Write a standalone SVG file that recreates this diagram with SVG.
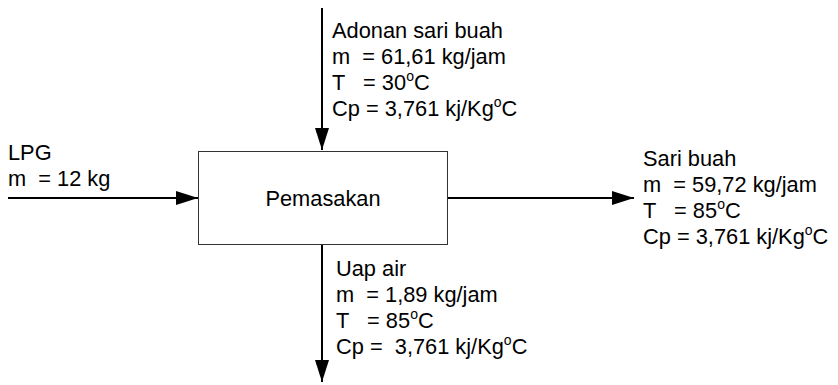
<svg xmlns="http://www.w3.org/2000/svg" width="838" height="385" viewBox="0 0 838 385">
<style>
text{font-family:"Liberation Sans",Arial,sans-serif;font-size:21.8px;fill:#000;white-space:pre}
.sup{font-size:14px}
.flow{stroke:#000;stroke-width:2;fill:none}
</style>
<defs>
<marker id="ah" markerWidth="22" markerHeight="14" refX="22" refY="7" orient="auto" markerUnits="userSpaceOnUse">
<path d="M0,0 L22,7 L0,14 Z" fill="#000"/>
</marker>
</defs>
<rect width="838" height="385" fill="#fff"/>
<g id="connectors">
<line class="flow" x1="322" y1="8" x2="322" y2="150" marker-end="url(#ah)"/>
<line class="flow" x1="8" y1="198" x2="198" y2="198" marker-end="url(#ah)"/>
<line class="flow" x1="448" y1="198" x2="634" y2="198" marker-end="url(#ah)"/>
<line class="flow" x1="322" y1="245" x2="322" y2="382" marker-end="url(#ah)"/>
</g>
<g id="pemasakan">
<rect x="198.5" y="151.5" width="249" height="93" fill="#fff" stroke="#333" stroke-width="1"/>
<text x="323" y="206" text-anchor="middle">Pemasakan</text>
</g>
<g id="adonan">
<text x="332" y="38">Adonan sari buah</text>
<text x="332" y="64">m  = 61,61 kg/jam</text>
<text x="332" y="90">T   = 30<tspan class="sup" dy="-9">o</tspan><tspan dy="9">C</tspan></text>
<text x="332" y="116">Cp = 3,761 kj/Kg<tspan class="sup" dy="-9">o</tspan><tspan dy="9">C</tspan></text>
</g>
<g id="lpg">
<text x="8" y="160">LPG</text>
<text x="8" y="186">m  = 12 kg</text>
</g>
<g id="sari-buah">
<text x="643" y="166">Sari buah</text>
<text x="643" y="192">m  = 59,72 kg/jam</text>
<text x="643" y="218">T   = 85<tspan class="sup" dy="-9">o</tspan><tspan dy="9">C</tspan></text>
<text x="643" y="244">Cp = 3,761 kj/Kg<tspan class="sup" dy="-9">o</tspan><tspan dy="9">C</tspan></text>
</g>
<g id="uap-air">
<text x="336" y="276">Uap air</text>
<text x="336" y="302">m  = 1,89 kg/jam</text>
<text x="336" y="328">T   = 85<tspan class="sup" dy="-9">o</tspan><tspan dy="9">C</tspan></text>
<text x="336" y="354">Cp =  3,761 kj/Kg<tspan class="sup" dy="-9">o</tspan><tspan dy="9">C</tspan></text>
</g>
</svg>
